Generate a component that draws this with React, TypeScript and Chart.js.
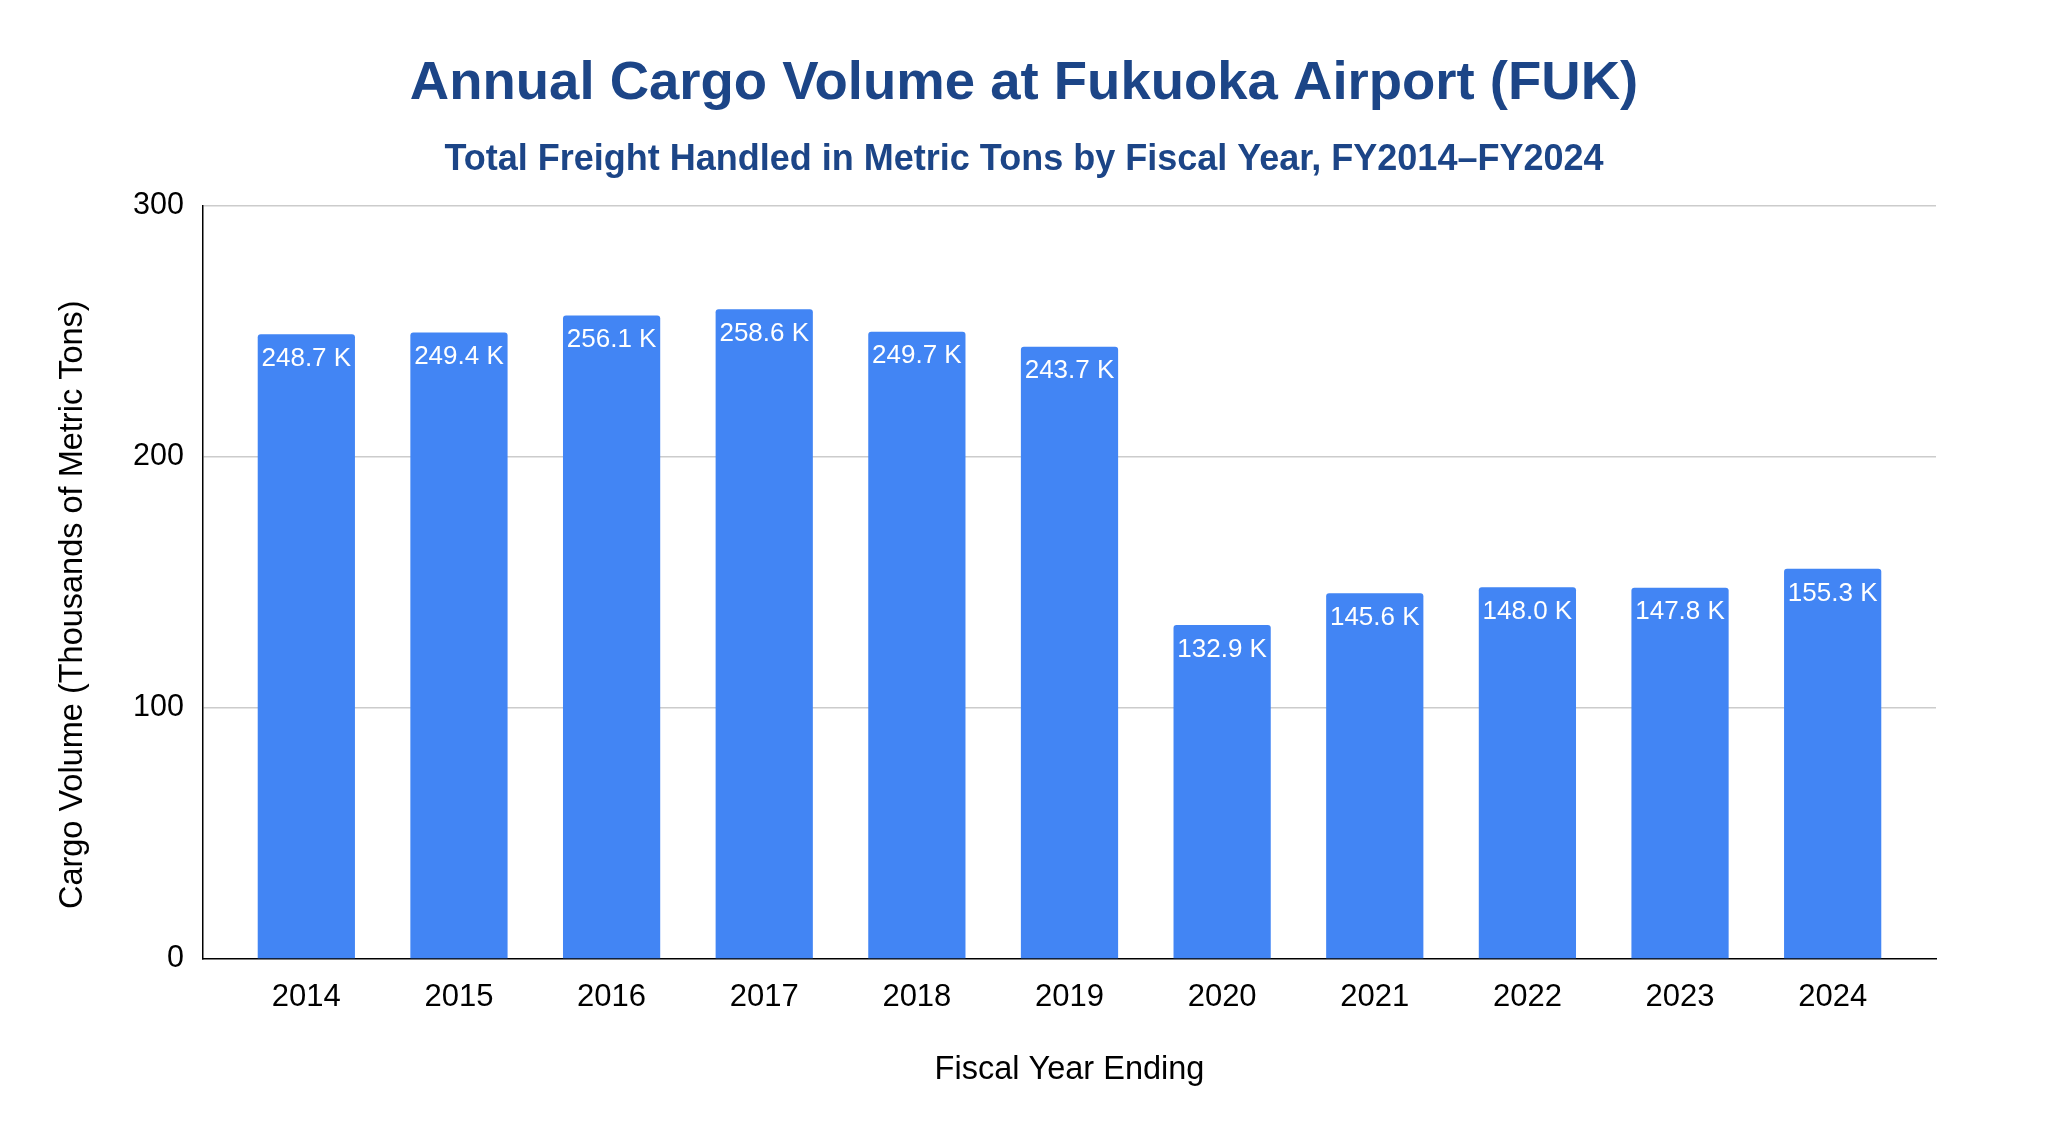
import React, { useEffect, useRef } from "react";
import { Chart, registerables } from "chart.js";

Chart.register(...registerables);

const years = ["2014", "2015", "2016", "2017", "2018", "2019", "2020", "2021", "2022", "2023", "2024"];
const cargoThousandTons = [248.7, 249.4, 256.1, 258.6, 249.7, 243.7, 132.9, 145.6, 148.0, 147.8, 155.3];
const yTicks = [0, 100, 200, 300];

const titleText = "Annual Cargo Volume at Fukuoka Airport (FUK)";
const subtitleText = "Total Freight Handled in Metric Tons by Fiscal Year, FY2014\u2013FY2024";
const xTitle = "Fiscal Year Ending";
const yTitle = "Cargo Volume (Thousands of Metric Tons)";

const FONT = 'Arial, "Liberation Sans", sans-serif';

const barLabels = {
  id: "barLabels",
  afterDatasetsDraw(chart: any) {
    const ctx = chart.ctx;
    const meta = chart.getDatasetMeta(0);
    ctx.save();
    ctx.font = `26px ${FONT}`;
    ctx.fillStyle = "#ffffff";
    ctx.textAlign = "center";
    ctx.textBaseline = "middle";
    meta.data.forEach((bar: any, i: number) => {
      const v = cargoThousandTons[i];
      ctx.fillText(`${v.toFixed(1)} K`, bar.x, bar.y + 24.5);
    });
    ctx.restore();
  },
};

export default function App() {
  const ref = useRef<HTMLCanvasElement>(null);
  useEffect(() => {
    if (!ref.current) return;
    const chart = new Chart(ref.current, {
      type: "bar",
      data: {
        datasets: [
          {
            label: "Cargo",
            data: cargoThousandTons.map((v, i) => ({ x: i, y: v })),
            backgroundColor: "#4285F4",
            borderWidth: 0,
            borderRadius: 3,
            borderSkipped: "start",
            barPercentage: 0.637,
            categoryPercentage: 1,
            yAxisID: "y",
          },
        ],
      },
      plugins: [barLabels],
      options: {
        animation: false,
        responsive: false,
        devicePixelRatio: 1,
        layout: { padding: { left: 0, right: 0, top: 0, bottom: 0 } },
        plugins: {
          legend: { display: false },
          tooltip: { enabled: false },
          title: {
            display: true,
            text: titleText,
            color: "#1c4587",
            font: { family: FONT, size: 54.5, weight: "bold", lineHeight: 1.2 },
            padding: { top: 50.8, bottom: 0 },
          },
          subtitle: {
            display: true,
            text: subtitleText,
            color: "#1c4587",
            font: { family: FONT, size: 36, weight: "bold", lineHeight: 1.2 },
            padding: { top: 22.6, bottom: 23.3 },
          },
        },
        scales: {
          x: {
            type: "linear",
            offset: false,
            min: -0.677,
            max: 10.677,
            afterBuildTicks: (scale: any) => {
              scale.ticks = years.map((_, i) => ({ value: i }));
            },
            afterFit: (scale: any) => {
              scale.height = 165;
            },
            grid: { display: false, drawTicks: false, offset: false },
            border: { display: true, color: "#000000", width: 1.5 },
            ticks: {
              autoSkip: false,
              maxRotation: 0,
              padding: 20,
              color: "#000000",
              font: { family: FONT, size: 31 },
              callback: (value: any) => years[value] ?? "",
            },
            title: {
              display: true,
              text: xTitle,
              color: "#000000",
              font: { family: FONT, size: 32.5 },
              padding: { top: 0, bottom: 34 },
            },
          },
          y: {
            type: "linear",
            position: "left",
            min: yTicks[0],
            max: yTicks[yTicks.length - 1],
            afterBuildTicks: (scale: any) => {
              scale.ticks = yTicks.map((v) => ({ value: v }));
            },
            afterFit: (scale: any) => {
              scale.width = 203;
            },
            grid: {
              drawTicks: false,
              color: (c: any) => (c.tick && c.tick.value === 0 ? "rgba(0,0,0,0)" : "#cccccc"),
              lineWidth: 1.5,
            },
            border: { display: true, color: "#000000", width: 1.5 },
            ticks: {
              padding: 19,
              color: "#000000",
              font: { family: FONT, size: 30.5 },
            },
            title: {
              display: true,
              text: yTitle + "     ",
              color: "#000000",
              font: { family: FONT, size: 32.5 },
              padding: { top: 53.5, bottom: 0 },
            },
          },
          rightGap: {
            type: "linear",
            position: "right",
            display: true,
            min: 0,
            max: 300,
            afterFit: (scale: any) => {
              scale.width = 112;
            },
            grid: { display: false, drawTicks: false },
            border: { display: false },
            ticks: { display: false },
            title: { display: false },
          },
        },
      },
    } as any);
    return () => chart.destroy();
  }, []);

  return (
    <div style={{ position: "fixed", left: 0, top: 0, width: 2048, height: 1124, background: "#ffffff" }}>
      <canvas ref={ref} width={2048} height={1124} style={{ width: 2048, height: 1124, display: "block" }} />
    </div>
  );
}
